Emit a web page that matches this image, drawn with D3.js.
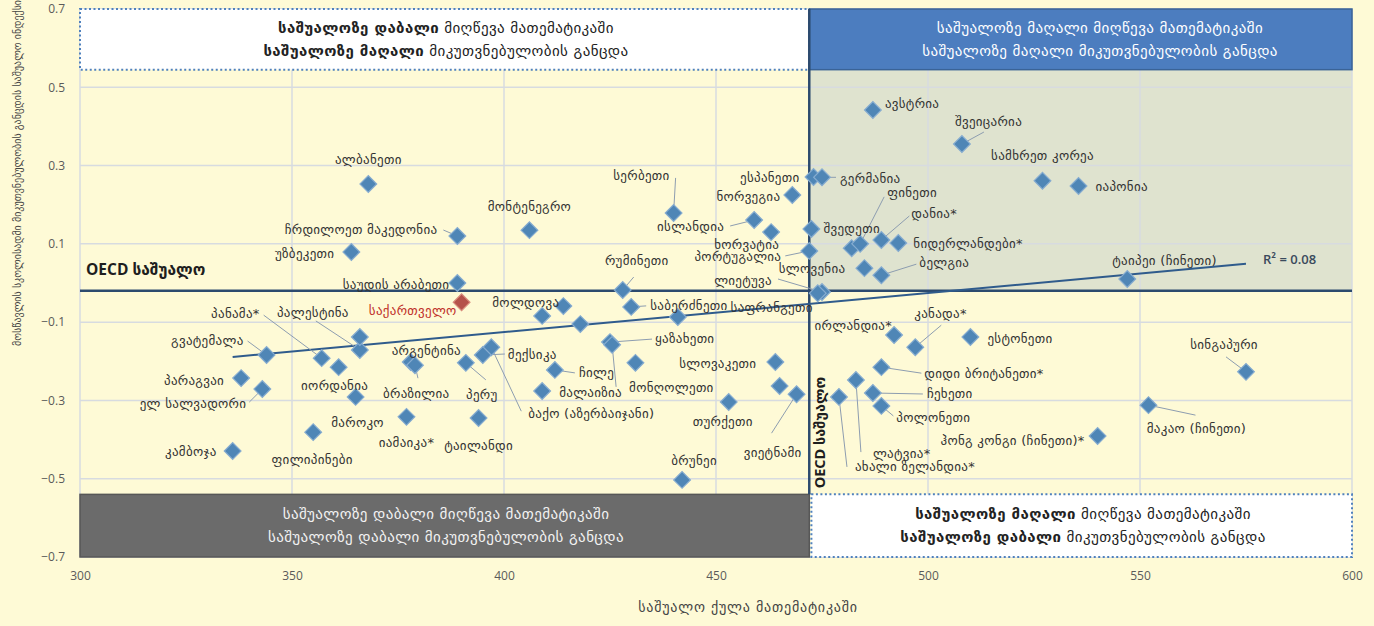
<!DOCTYPE html>
<html>
<head>
<meta charset="utf-8">
<script src="https://cdn.jsdelivr.net/npm/d3@7/dist/d3.min.js"></script>
<style>
  body { margin: 0; background: #fefad6; }
  svg text { font-family: "DejaVu Sans", sans-serif; }
</style>
</head>
<body>
<script>
// country, mean maths score, mean sense-of-belonging index
var countries = [
  "ავსტრია", "შვეიცარია", "სამხრეთ კორეა", "იაპონია", "ალბანეთი", "მონტენეგრო", "სერბეთი",
  "ესპანეთი", "გერმანია", "ნორვეგია", "ისლანდია", "ხორვატია", "უნგრეთი", "შვედეთი",
  "პორტუგალია", "ფინეთი", "დანია*", "ნიდერლანდები*", "სლოვენია", "ბელგია", "ლიეტუვა",
  "საფრანგეთი", "ტაიპეი (ჩინეთი)", "ჩრდილოეთ მაკედონია", "უზბეკეთი", "საუდის არაბეთი",
  "საქართველო", "პალესტინა", "ინდონეზია", "პანამა*", "გვატემალა", "პარაგვაი",
  "ელ სალვადორი", "იორდანია", "მაროკო", "კამბოჯა", "ფილიპინები", "იამაიკა*", "ტაილანდი",
  "არგენტინა", "ბრაზილია", "ბაქო (აზერბაიჯანი)", "მექსიკა", "პერუ", "მოლდოვა", "ურუგვაი",
  "რუმინეთი", "საბერძნეთი", "კვიპროსი", "უკრაინა", "ყაზახეთი", "მონღოლეთი", "არაბთა საამიროები",
  "ჩილე", "მალაიზია", "სლოვაკეთი", "აშშ", "ვიეტნამი", "თურქეთი", "ბრუნეი", "ირლანდია*",
  "კანადა*", "ესტონეთი", "სინგაპური", "დიდი ბრიტანეთი*", "ლატვია*", "ახალი ზელანდია*",
  "ჩეხეთი", "პოლონეთი", "ჰონგ კონგი (ჩინეთი)*", "მაკაო (ჩინეთი)"
];
var mathScores = [
  487, 508, 527, 535.5, 368, 406, 440,
  473, 475, 468, 459, 463, 472.5, 482,
  472, 484, 489, 493, 485, 489, 475,
  474, 547, 389, 364, 389,
  390, 366, 366, 357, 344, 338,
  343, 361, 365, 336, 355, 377, 394,
  378, 379, 397, 395, 391, 414, 409,
  428, 430, 418, 441, 425, 425.5, 431,
  412, 409, 464, 465, 469, 453, 442, 492,
  497, 510, 575, 489, 483, 479,
  487, 489, 540, 552
];
var belonging = [
  0.442, 0.355, 0.261, 0.248, 0.253, 0.135, 0.179,
  0.271, 0.270, 0.225, 0.161, 0.130, 0.138, 0.089,
  0.082, 0.100, 0.110, 0.102, 0.038, 0.020, -0.023,
  -0.026, 0.010, 0.120, 0.079, 0.000,
  -0.049, -0.171, -0.138, -0.192, -0.184, -0.243,
  -0.271, -0.215, -0.291, -0.429, -0.381, -0.342, -0.345,
  -0.202, -0.210, -0.164, -0.184, -0.204, -0.059, -0.084,
  -0.018, -0.061, -0.105, -0.087, -0.151, -0.158, -0.204,
  -0.222, -0.276, -0.202, -0.263, -0.284, -0.304, -0.503, -0.133,
  -0.164, -0.138, -0.227, -0.215, -0.248, -0.291,
  -0.281, -0.314, -0.391, -0.312
];

var xTicks = [300, 350, 400, 450, 500, 550, 600];
var yTicks = [-0.7, -0.5, -0.3, -0.1, 0.1, 0.3, 0.5, 0.7];
var oecdMath = 472;
var oecdBelonging = -0.02;
var trendX = [336, 575];
var trendY = [-0.189, 0.049];
var rSquared = "R² = 0.08";
var highlight = "საქართველო";
var bandTop = 0.545, bandBottom = -0.54;

var quadrantText = {
  tl: [["საშუალოზე დაბალი", " მიღწევა მათემატიკაში"], ["საშუალოზე მაღალი", " მიკუთვნებულობის განცდა"]],
  tr: [["საშუალოზე მაღალი", " მიღწევა მათემატიკაში"], ["საშუალოზე მაღალი", " მიკუთვნებულობის განცდა"]],
  bl: [["საშუალოზე დაბალი", " მიღწევა მათემატიკაში"], ["საშუალოზე დაბალი", " მიკუთვნებულობის განცდა"]],
  br: [["საშუალოზე მაღალი", " მიღწევა მათემატიკაში"], ["საშუალოზე დაბალი", " მიკუთვნებულობის განცდა"]]
};

// label placement: [dx, dy, anchor, leaderX, leaderY] in px from the marker
var labelPos = {
  "ავსტრია": [12, -6, "start"],
  "შვეიცარია": [-7, -23, "start", 22, -12],
  "სამხრეთ კორეა": [0, -25, "middle"],
  "იაპონია": [17, 1, "start"],
  "ალბანეთი": [0, -24, "middle"],
  "მონტენეგრო": [0, -24, "middle"],
  "სერბეთი": [-4, -37, "end", 2, -35],
  "ესპანეთი": [-14, 1, "end"],
  "გერმანია": [18, 1, "start", 14, 0],
  "ნორვეგია": [-12, 2, "end"],
  "ისლანდია": [-30, 7, "end", -24, 6],
  "ხორვატია": [8, 12, "end"],
  "შვედეთი": [0, -20, "middle"],
  "პორტუგალია": [-28, 6, "end", -24, 5],
  "ფინეთი": [27, -51, "start", 24, -47],
  "დანია*": [30, -26, "start", 28, -24],
  "ნიდერლანდები*": [15, 0, "start"],
  "სლოვენია": [-19, 0, "end"],
  "ბელგია": [38, -13, "start", 35, -11],
  "ლიეტუვა": [-50, -12, "end", -44, -13],
  "საფრანგეთი": [-5, 14, "end"],
  "ტაიპეი (ჩინეთი)": [-15, -19, "start"],
  "ჩრდილოეთ მაკედონია": [-20, -7, "end", -14, -6],
  "უზბეკეთი": [-17, 1, "end"],
  "საუდის არაბეთი": [-8, 1, "end"],
  "საქართველო": [-5, 8, "end"],
  "პალესტინა": [-47, -37, "middle", -44, -29],
  "პანამა*": [-62, -45, "end", -58, -43],
  "გვატემალა": [-23, -15, "end", -19, -14],
  "პარაგვაი": [-17, 2, "end"],
  "ელ სალვადორი": [-16, 14, "end", -13, 13],
  "იორდანია": [-4, 18, "middle"],
  "მაროკო": [2, 26, "middle"],
  "კამბოჯა": [-16, 1, "end"],
  "ფილიპინები": [-1, 27, "middle"],
  "იამაიკა*": [0, 26, "middle"],
  "ტაილანდი": [0, 27, "middle"],
  "არგენტინა": [-19, -12, "start"],
  "ბრაზილია": [-32, 28, "start", 3, 13],
  "ბაქო (აზერბაიჯანი)": [37, 66, "start", 30, 64],
  "მექსიკა": [25, -1, "start", 22, -1],
  "პერუ": [16, 32, "middle", 20, 17],
  "მოლდოვა": [-4, -4, "end"],
  "რუმინეთი": [14, -30, "middle", 11, -13],
  "საბერძნეთი": [19, -1, "start", 15, -1],
  "ყაზახეთი": [45, -4, "start", 42, -3],
  "მონღოლეთი": [17, 43, "start", 4, 42],
  "ჩილე": [24, 3, "start", 20, 3],
  "მალაიზია": [17, 1, "start"],
  "სლოვაკეთი": [-19, 1, "end"],
  "ვიეტნამი": [5, 58, "end", -25, 39],
  "თურქეთი": [-6, 20, "middle"],
  "ბრუნეი": [12, -19, "middle"],
  "ირლანდია*": [-2, -10, "end"],
  "კანადა*": [-1, -34, "start", 26, -22],
  "ესტონეთი": [17, 1, "start"],
  "სინგაპური": [-22, -27, "middle", -20, -15],
  "დიდი ბრიტანეთი*": [43, 6, "start", 40, 6],
  "ლატვია*": [17, 73, "start", 5, 72],
  "ახალი ზელანდია*": [16, 70, "start", 8, 70],
  "ჩეხეთი": [54, 1, "start", 50, 1],
  "პოლონეთი": [15, 12, "start", 12, 10],
  "ჰონგ კონგი (ჩინეთი)*": [-13, 4, "end"],
  "მაკაო (ჩინეთი)": [48, 23, "middle", 47, 10]
};

var points = countries.map(function(c, i) {
  return { name: c, x: mathScores[i], y: belonging[i] };
});

var width = 1374, height = 626;
var svg = d3.select("body").append("svg")
  .attr("width", width)
  .attr("height", height);

var x = d3.scaleLinear().domain([300, 600]).range([80, 1352]);
var y = d3.scaleLinear().domain([-0.7, 0.7]).range([557, 9]);

svg.append("rect").attr("width", width).attr("height", height).attr("fill", "#fefad6");

// high/high quadrant shading
svg.append("rect")
  .attr("x", x(oecdMath)).attr("y", y(bandTop))
  .attr("width", x(600) - x(oecdMath))
  .attr("height", y(oecdBelonging) - y(bandTop))
  .attr("fill", "#dfe3cf");

// grid
svg.append("g").selectAll("line").data(xTicks).enter().append("line")
  .attr("x1", d => x(d)).attr("x2", d => x(d))
  .attr("y1", y(0.7)).attr("y2", y(-0.7))
  .attr("stroke", "#d7dbe0").attr("stroke-width", 1.5);
svg.append("g").selectAll("line").data(yTicks).enter().append("line")
  .attr("x1", x(300)).attr("x2", x(600))
  .attr("y1", d => y(d)).attr("y2", d => y(d))
  .attr("stroke", "#d7dbe0").attr("stroke-width", 1.5);

// axes
var xAxis = svg.append("g")
  .attr("transform", "translate(0," + y(-0.7) + ")")
  .call(d3.axisBottom(x).tickValues(xTicks).tickSize(0).tickPadding(14).tickFormat(d3.format("d")));
var yAxis = svg.append("g")
  .attr("transform", "translate(" + x(300) + ",0)")
  .call(d3.axisLeft(y).tickValues(yTicks).tickSize(0).tickPadding(15).tickFormat(d3.format(".1f")));
[xAxis, yAxis].forEach(function(a) {
  a.select(".domain").remove();
  a.selectAll("text")
    .attr("fill", "#5a5a5a")
    .style("font-family", "'Open Sans', sans-serif")
    .style("font-size", "12px");
});

// quadrant boxes
function box(x0, x1, y0, y1, fill, stroke, dotted) {
  var r = svg.append("rect")
    .attr("x", x(x0)).attr("y", y(y0))
    .attr("width", x(x1) - x(x0))
    .attr("height", y(y1) - y(y0))
    .attr("fill", fill)
    .attr("stroke", stroke)
    .attr("stroke-width", dotted ? 2 : 1.5);
  if (dotted) r.attr("stroke-dasharray", "2,2.5");
}
box(300, oecdMath, 0.7, bandTop, "#ffffff", "#4f81bd", true);
box(oecdMath, 600, 0.7, bandTop, "#4c7dbf", "#3a6397", false);
box(300, oecdMath, bandBottom, -0.7, "#6b6b6b", "#575757", false);
box(oecdMath + 0.5, 600, bandBottom, -0.7, "#ffffff", "#4f81bd", true);

function boxText(lines, cx, cy, color, boldFirst) {
  lines.forEach(function(parts, i) {
    var t = svg.append("text")
      .attr("x", cx).attr("y", cy + (i === 0 ? -11.5 : 11.5))
      .attr("text-anchor", "middle")
      .attr("dominant-baseline", "central")
      .attr("fill", color)
      .style("font-size", "15px")
      .style("letter-spacing", "0.4px");
    t.append("tspan").text(parts[0]).style("font-weight", boldFirst ? "bold" : "normal");
    t.append("tspan").text(parts[1]);
  });
}
var topMid = (y(0.7) + y(bandTop)) / 2;
var botMid = (y(bandBottom) + y(-0.7)) / 2;
boxText(quadrantText.tl, 446, topMid, "#222", true);
boxText(quadrantText.tr, 1100, topMid, "#ffffff", false);
boxText(quadrantText.bl, 446, botMid, "#f2f2f2", false);
boxText(quadrantText.br, 1083, botMid, "#222", true);

// OECD averages
svg.append("line")
  .attr("x1", x(300)).attr("x2", x(600))
  .attr("y1", y(oecdBelonging)).attr("y2", y(oecdBelonging))
  .attr("stroke", "#2c4a6e").attr("stroke-width", 2.5);
svg.append("line")
  .attr("x1", x(oecdMath)).attr("x2", x(oecdMath))
  .attr("y1", y(0.7)).attr("y2", y(bandBottom))
  .attr("stroke", "#2c4a6e").attr("stroke-width", 2.5);

svg.append("text")
  .attr("x", 86).attr("y", y(oecdBelonging) - 16)
  .style("font-family", "'Open Sans', 'DejaVu Sans', sans-serif")
  .style("font-size", "15.5px").style("font-weight", "bold")
  .attr("fill", "#1e1e1e")
  .text("OECD საშუალო");
svg.append("text")
  .attr("transform", "translate(" + (x(oecdMath) + 16) + "," + (y(bandBottom) - 6) + ") rotate(-90)")
  .style("font-family", "'Open Sans', 'DejaVu Sans', sans-serif")
  .style("font-size", "14.5px").style("font-weight", "bold")
  .attr("fill", "#1e1e1e")
  .text("OECD საშუალო");

// trend line
svg.append("line")
  .attr("x1", x(trendX[0])).attr("y1", y(trendY[0]))
  .attr("x2", x(trendX[1])).attr("y2", y(trendY[1]))
  .attr("stroke", "#2f5b8c").attr("stroke-width", 2);
svg.append("text")
  .attr("x", x(trendX[1]) + 17).attr("y", y(trendY[1]) - 5)
  .attr("dominant-baseline", "central")
  .style("font-family", "'Open Sans', sans-serif")
  .style("font-size", "13px").style("font-weight", "600")
  .attr("fill", "#3a4a5c")
  .text(rSquared);

// leader lines
var labelled = points.filter(p => labelPos[p.name]);
svg.append("g").selectAll("line")
  .data(labelled.filter(p => labelPos[p.name].length > 3)).enter().append("line")
  .attr("x1", d => x(d.x)).attr("y1", d => y(d.y))
  .attr("x2", d => x(d.x) + labelPos[d.name][3])
  .attr("y2", d => y(d.y) + labelPos[d.name][4])
  .attr("stroke", "#8d9db0").attr("stroke-width", 1);

// markers
var diamond = d3.symbol().type(d3.symbolSquare).size(140);
svg.append("g").selectAll("path").data(points).enter().append("path")
  .attr("d", diamond)
  .attr("transform", d => "translate(" + x(d.x) + "," + y(d.y) + ") rotate(45)")
  .attr("fill", d => d.name === highlight ? "#b5524a" : "#4f86b6")
  .attr("stroke", d => d.name === highlight ? "#d98c7c" : "#86acd0")
  .attr("stroke-width", 1.2);

// labels
svg.append("g").selectAll("text").data(labelled).enter().append("text")
  .attr("x", d => x(d.x) + labelPos[d.name][0])
  .attr("y", d => y(d.y) + labelPos[d.name][1])
  .attr("text-anchor", d => labelPos[d.name][2])
  .attr("dominant-baseline", "central")
  .attr("fill", d => d.name === highlight ? "#c0302a" : "#333")
  .style("font-size", "13px")
  .style("letter-spacing", "0.3px")
  .text(d => d.name);

// axis titles
svg.append("text")
  .attr("x", 748).attr("y", 612)
  .attr("text-anchor", "middle")
  .attr("fill", "#444")
  .style("font-size", "14px")
  .style("letter-spacing", "0.8px")
  .text("საშუალო ქულა მათემატიკაში");
svg.append("text")
  .attr("transform", "translate(17,173) rotate(-90)")
  .attr("text-anchor", "middle")
  .attr("dominant-baseline", "central")
  .attr("fill", "#444")
  .style("font-size", "10px")
  .text("მოსწავლის სკოლისადმი მიკუთვნებულობის განცდის საშუალო ინდექსი");
</script>
</body>
</html>
